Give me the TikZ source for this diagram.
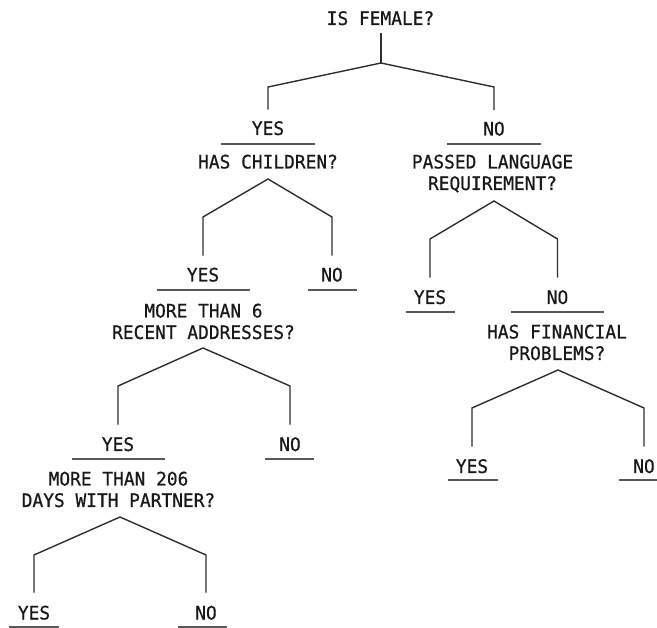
\documentclass[tikz,border=0pt]{standalone}
\usepackage{fontspec}
\newfontfamily\treefont[FakeStretch=0.96,FakeBold=0.6]{DejaVu Sans Mono}
\begin{document}
\begin{tikzpicture}[x=1pt,y=-1pt,
  txt/.style={font=\treefont\fontsize{18.6}{21.5}\selectfont, text=black!90, inner sep=0pt, anchor=base, align=center},
  edge/.style={line width=1.4pt, draw=black!82, line join=miter},
  uline/.style={line width=1.4pt, draw=black!65},
  leafu/.style={uline},
]
\useasboundingbox (0,0) rectangle (657,628);
\clip (0,0) rectangle (657,628);

% ---- questions (anchor base = baseline of last line)
\node[txt] (q0) at (380.5,25) {IS FEMALE?};
\node[txt] (q1) at (268,168.5) {HAS CHILDREN?};
\node[txt] (q2) at (492.5,190) {PASSED LANGUAGE\\REQUIREMENT?};
\node[txt] (q3) at (203.5,339) {MORE THAN 6\\RECENT ADDRESSES?};
\node[txt] (q4) at (557,360) {HAS FINANCIAL\\PROBLEMS?};
\node[txt] (q5) at (118.5,507) {MORE THAN 206\\DAYS WITH PARTNER?};

% ---- answers
\node[txt] (y0) at (268,135) {YES};
\node[txt] (n0) at (494,135.5) {NO};
\node[txt] (y1) at (203,281.5) {YES};
\node[txt] (n1) at (332,281.5) {NO};
\node[txt] (y2) at (430,304) {YES};
\node[txt] (n2) at (557.5,304) {NO};
\node[txt] (y3) at (118,451) {YES};
\node[txt] (n3) at (290,451) {NO};
\node[txt] (y4) at (472,473) {YES};
\node[txt] (n4) at (644,473) {NO};
\node[txt] (y5) at (34,619.5) {YES};
\node[txt] (n5) at (206,619.5) {NO};

% ---- apexes and corner levels
\coordinate (s0) at (381,33);
\coordinate (a0) at (381,63);  \coordinate (c0) at (0,87);
\coordinate (a1) at (268,179); \coordinate (c1) at (0,217);
\coordinate (a2) at (494,201); \coordinate (c2) at (0,239);
\coordinate (a3) at (203,348); \coordinate (c3) at (0,386);
\coordinate (a4) at (558,370); \coordinate (c4) at (0,408);
\coordinate (a5) at (120,517); \coordinate (c5) at (0,555);

% ---- connectors
\draw[edge] (s0) -- (a0);
\draw[edge] ([yshift=18.5pt]y0.center) -- (y0.center |- c0) -- (a0) -- (n0.center |- c0) -- ([yshift=18.5pt]n0.center);
\draw[edge] ([yshift=19pt]y1.center) -- (y1.center |- c1) -- (a1) -- (n1.center |- c1) -- ([yshift=19pt]n1.center);
\draw[edge] ([yshift=19.5pt]y2.center) -- (y2.center |- c2) -- (a2) -- (n2.center |- c2) -- ([yshift=19.5pt]n2.center);
\draw[edge] ([yshift=19.5pt]y3.center) -- (y3.center |- c3) -- (a3) -- (n3.center |- c3) -- ([yshift=19.5pt]n3.center);
\draw[edge] ([yshift=19.5pt]y4.center) -- (y4.center |- c4) -- (a4) -- (n4.center |- c4) -- ([yshift=19.5pt]n4.center);
\draw[edge] ([yshift=20pt]y5.center) -- (y5.center |- c5) -- (a5) -- (n5.center |- c5) -- ([yshift=20pt]n5.center);

% ---- underlines
\draw[uline] ([xshift=-47pt,yshift=-9pt]y0.base) -- ([xshift=47pt,yshift=-9pt]y0.base);
\draw[uline] ([xshift=-47pt,yshift=-8.5pt]n0.base) -- ([xshift=47pt,yshift=-8.5pt]n0.base);
\draw[uline] ([xshift=-46.5pt,yshift=-8.5pt]y1.base) -- ([xshift=47pt,yshift=-8.5pt]y1.base);
\draw[leafu] ([xshift=-24pt,yshift=-8.5pt]n1.base) -- ([xshift=25pt,yshift=-8.5pt]n1.base);
\draw[leafu] ([xshift=-24pt,yshift=-8pt]y2.base) -- ([xshift=25pt,yshift=-8pt]y2.base);
\draw[uline] ([xshift=-46.5pt,yshift=-8pt]n2.base) -- ([xshift=46.5pt,yshift=-8pt]n2.base);
\draw[uline] ([xshift=-46pt,yshift=-8pt]y3.base) -- ([xshift=47pt,yshift=-8pt]y3.base);
\draw[leafu] ([xshift=-25pt,yshift=-8pt]n3.base) -- ([xshift=24pt,yshift=-8pt]n3.base);
\draw[leafu] ([xshift=-24pt,yshift=-7pt]y4.base) -- ([xshift=26pt,yshift=-7pt]y4.base);
\draw[leafu] ([xshift=-25pt,yshift=-7pt]n4.base) -- ([xshift=25pt,yshift=-7pt]n4.base);
\draw[leafu] ([xshift=-25pt,yshift=-7.5pt]y5.base) -- ([xshift=25pt,yshift=-7.5pt]y5.base);
\draw[leafu] ([xshift=-28pt,yshift=-7.5pt]n5.base) -- ([xshift=21pt,yshift=-7.5pt]n5.base);
\end{tikzpicture}
\end{document}
